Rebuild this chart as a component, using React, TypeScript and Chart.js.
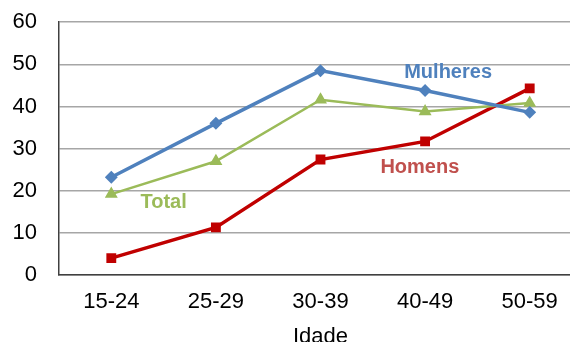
import React, { useEffect, useRef } from "react";
import { Chart, registerables } from "chart.js";

Chart.register(...registerables);

const categories = ["15-24", "25-29", "30-39", "40-49", "50-59"];
const mulheres = [23.2, 36.0, 48.5, 43.8, 38.6];
const total = [19.2, 27.0, 41.6, 38.8, 40.8];
const homens = [4.0, 11.3, 27.4, 31.7, 44.3];
const yTicks = [0, 10, 20, 30, 40, 50, 60];
const seriesLabels = [
  { text: "Mulheres", x: 3.22, y: 48.0, color: "#4f81bd" },
  { text: "Homens", x: 2.95, y: 25.4, color: "#c0504d" },
  { text: "Total", x: 0.5, y: 17.2, color: "#9bbb59" },
];

const labelPlugin = {
  id: "seriesLabels",
  afterDatasetsDraw(chart: any) {
    const { ctx, scales } = chart;
    ctx.save();
    ctx.font = "bold 20px 'Liberation Sans', Arial, sans-serif";
    ctx.textAlign = "center";
    ctx.textBaseline = "middle";
    for (const l of seriesLabels) {
      ctx.fillStyle = l.color;
      ctx.fillText(l.text, scales.x.getPixelForValue(l.x), scales.y.getPixelForValue(l.y));
    }
    ctx.restore();
  },
};

export default function App() {
  const ref = useRef<HTMLCanvasElement>(null);
  useEffect(() => {
    const chart = new Chart(ref.current!, {
      type: "line",
      data: {
        labels: categories,
        datasets: [
          {
            label: "Mulheres",
            data: mulheres,
            borderColor: "#4f81bd",
            backgroundColor: "#4f81bd",
            borderWidth: 3.5,
            pointStyle: "rectRot",
            pointRadius: 4,
            tension: 0,
          },
          {
            label: "Total",
            data: total,
            borderColor: "#9bbb59",
            backgroundColor: "#9bbb59",
            borderWidth: 2.5,
            pointStyle: "triangle",
            pointRadius: 5,
            tension: 0,
          },
          {
            label: "Homens",
            data: homens,
            borderColor: "#c00000",
            backgroundColor: "#c00000",
            borderWidth: 3.5,
            pointStyle: "rect",
            pointRadius: 4.5,
            tension: 0,
          },
        ],
      },
      options: {
        animation: false,
        responsive: false,
        layout: { padding: { top: 9, right: 6, left: 0, bottom: 0 } },
        plugins: { legend: { display: false }, tooltip: { enabled: false } },
        scales: {
          x: {
            offset: true,
            grid: { display: false, drawTicks: false },
            border: { color: "#404040", width: 1.5 },
            ticks: {
              color: "#000",
              padding: 14,
              maxRotation: 0,
              font: { family: "'Liberation Sans', Arial, sans-serif", size: 22 },
            },
            title: {
              display: true,
              text: "Idade",
              color: "#000",
              padding: { top: 0, bottom: 5 },
              font: { family: "'Liberation Sans', Arial, sans-serif", size: 22 },
            },
            afterFit(scale: any) {
              scale.height = 80;
            },
          },
          y: {
            min: 0,
            max: 60,
            afterBuildTicks(scale: any) {
              scale.ticks = yTicks.map((v) => ({ value: v }));
            },
            grid: { color: "#a6a6a6", lineWidth: 1.5, drawTicks: false },
            border: { color: "#404040", width: 1.5 },
            ticks: {
              color: "#000",
              padding: 22,
              font: { family: "'Liberation Sans', Arial, sans-serif", size: 22 },
            },
            afterFit(scale: any) {
              scale.width = 59;
            },
          },
        },
      },
      plugins: [labelPlugin],
    });
    return () => chart.destroy();
  }, []);
  return (
    <div style={{ position: "fixed", left: 0, top: 0, width: 570, height: 342, overflow: "hidden", background: "#fff" }}>
      <canvas ref={ref} width={590} height={368} style={{ display: "block", marginTop: -13 }} />
    </div>
  );
}
